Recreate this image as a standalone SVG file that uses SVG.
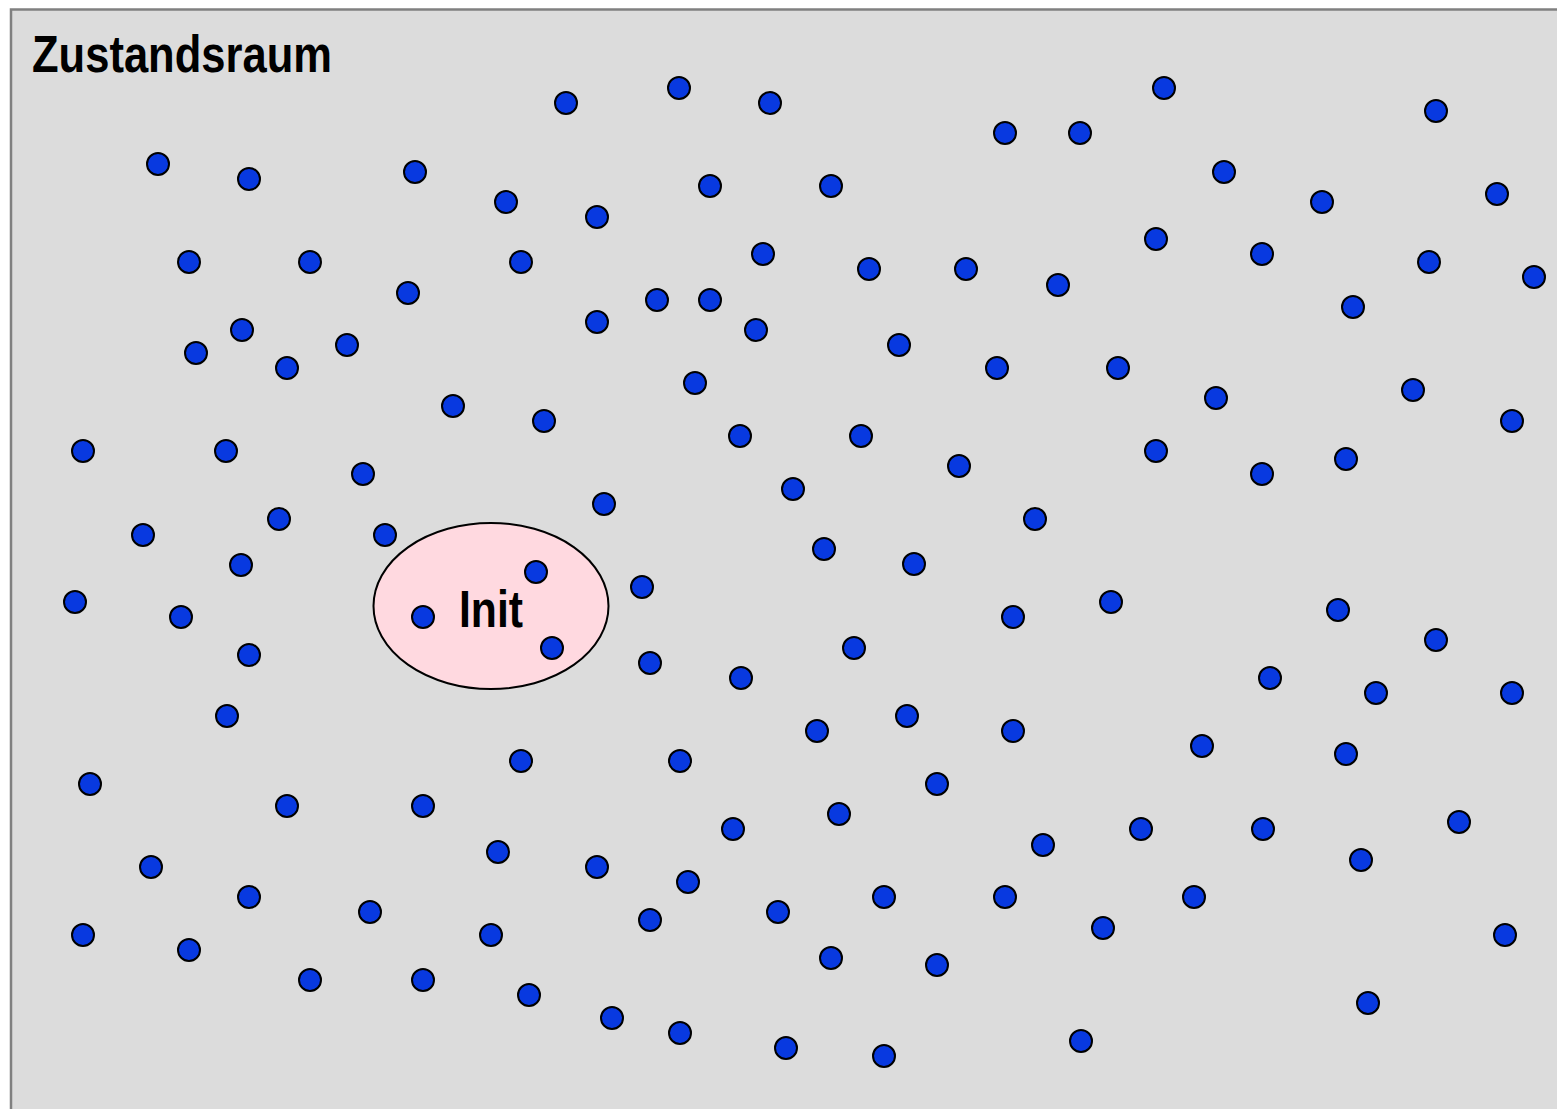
<svg xmlns="http://www.w3.org/2000/svg" width="1557" height="1109" viewBox="0 0 1557 1109">
<style>
.s{fill:#0839E0;stroke:#000;stroke-width:2}
.lbl{font-family:"Liberation Sans Narrow","Liberation Sans",Arial,sans-serif;font-weight:bold;fill:#000}
</style>
<rect x="0" y="0" width="1557" height="1109" fill="#ffffff"/>
<g id="zustandsraum">
<rect x="11" y="9.5" width="1560" height="1110" fill="#DCDCDC" stroke="#808080" stroke-width="2.5"/>
<text class="lbl" x="32" y="72" font-size="52" textLength="300" lengthAdjust="spacingAndGlyphs">Zustandsraum</text>
</g>
<g id="init">
<ellipse cx="491" cy="606" rx="117.5" ry="83" fill="#FFD9E0" stroke="#000" stroke-width="2"/>
<text class="lbl" x="491" y="627" font-size="52" text-anchor="middle" textLength="64" lengthAdjust="spacingAndGlyphs">Init</text>
</g>
<g id="zustaende">
<circle class="s" cx="566" cy="103" r="11"/>
<circle class="s" cx="679" cy="88" r="11"/>
<circle class="s" cx="770" cy="103" r="11"/>
<circle class="s" cx="1005" cy="133" r="11"/>
<circle class="s" cx="1080" cy="133" r="11"/>
<circle class="s" cx="1164" cy="88" r="11"/>
<circle class="s" cx="1436" cy="111" r="11"/>
<circle class="s" cx="158" cy="164" r="11"/>
<circle class="s" cx="249" cy="179" r="11"/>
<circle class="s" cx="415" cy="172" r="11"/>
<circle class="s" cx="506" cy="202" r="11"/>
<circle class="s" cx="597" cy="217" r="11"/>
<circle class="s" cx="710" cy="186" r="11"/>
<circle class="s" cx="831" cy="186" r="11"/>
<circle class="s" cx="1224" cy="172" r="11"/>
<circle class="s" cx="1322" cy="202" r="11"/>
<circle class="s" cx="1497" cy="194" r="11"/>
<circle class="s" cx="189" cy="262" r="11"/>
<circle class="s" cx="310" cy="262" r="11"/>
<circle class="s" cx="521" cy="262" r="11"/>
<circle class="s" cx="763" cy="254" r="11"/>
<circle class="s" cx="869" cy="269" r="11"/>
<circle class="s" cx="966" cy="269" r="11"/>
<circle class="s" cx="1058" cy="285" r="11"/>
<circle class="s" cx="1156" cy="239" r="11"/>
<circle class="s" cx="1262" cy="254" r="11"/>
<circle class="s" cx="1429" cy="262" r="11"/>
<circle class="s" cx="1534" cy="277" r="11"/>
<circle class="s" cx="408" cy="293" r="11"/>
<circle class="s" cx="657" cy="300" r="11"/>
<circle class="s" cx="710" cy="300" r="11"/>
<circle class="s" cx="597" cy="322" r="11"/>
<circle class="s" cx="756" cy="330" r="11"/>
<circle class="s" cx="1353" cy="307" r="11"/>
<circle class="s" cx="196" cy="353" r="11"/>
<circle class="s" cx="242" cy="330" r="11"/>
<circle class="s" cx="287" cy="368" r="11"/>
<circle class="s" cx="347" cy="345" r="11"/>
<circle class="s" cx="899" cy="345" r="11"/>
<circle class="s" cx="997" cy="368" r="11"/>
<circle class="s" cx="1118" cy="368" r="11"/>
<circle class="s" cx="695" cy="383" r="11"/>
<circle class="s" cx="453" cy="406" r="11"/>
<circle class="s" cx="544" cy="421" r="11"/>
<circle class="s" cx="1216" cy="398" r="11"/>
<circle class="s" cx="1413" cy="390" r="11"/>
<circle class="s" cx="1512" cy="421" r="11"/>
<circle class="s" cx="83" cy="451" r="11"/>
<circle class="s" cx="226" cy="451" r="11"/>
<circle class="s" cx="363" cy="474" r="11"/>
<circle class="s" cx="740" cy="436" r="11"/>
<circle class="s" cx="861" cy="436" r="11"/>
<circle class="s" cx="959" cy="466" r="11"/>
<circle class="s" cx="1156" cy="451" r="11"/>
<circle class="s" cx="1262" cy="474" r="11"/>
<circle class="s" cx="1346" cy="459" r="11"/>
<circle class="s" cx="143" cy="535" r="11"/>
<circle class="s" cx="279" cy="519" r="11"/>
<circle class="s" cx="385" cy="535" r="11"/>
<circle class="s" cx="604" cy="504" r="11"/>
<circle class="s" cx="793" cy="489" r="11"/>
<circle class="s" cx="1035" cy="519" r="11"/>
<circle class="s" cx="241" cy="565" r="11"/>
<circle class="s" cx="824" cy="549" r="11"/>
<circle class="s" cx="914" cy="564" r="11"/>
<circle class="s" cx="75" cy="602" r="11"/>
<circle class="s" cx="181" cy="617" r="11"/>
<circle class="s" cx="536" cy="572" r="11"/>
<circle class="s" cx="642" cy="587" r="11"/>
<circle class="s" cx="423" cy="617" r="11"/>
<circle class="s" cx="552" cy="648" r="11"/>
<circle class="s" cx="1013" cy="617" r="11"/>
<circle class="s" cx="1111" cy="602" r="11"/>
<circle class="s" cx="1338" cy="610" r="11"/>
<circle class="s" cx="1436" cy="640" r="11"/>
<circle class="s" cx="249" cy="655" r="11"/>
<circle class="s" cx="650" cy="663" r="11"/>
<circle class="s" cx="741" cy="678" r="11"/>
<circle class="s" cx="854" cy="648" r="11"/>
<circle class="s" cx="1270" cy="678" r="11"/>
<circle class="s" cx="1376" cy="693" r="11"/>
<circle class="s" cx="1512" cy="693" r="11"/>
<circle class="s" cx="227" cy="716" r="11"/>
<circle class="s" cx="817" cy="731" r="11"/>
<circle class="s" cx="907" cy="716" r="11"/>
<circle class="s" cx="1013" cy="731" r="11"/>
<circle class="s" cx="1202" cy="746" r="11"/>
<circle class="s" cx="1346" cy="754" r="11"/>
<circle class="s" cx="521" cy="761" r="11"/>
<circle class="s" cx="680" cy="761" r="11"/>
<circle class="s" cx="90" cy="784" r="11"/>
<circle class="s" cx="937" cy="784" r="11"/>
<circle class="s" cx="287" cy="806" r="11"/>
<circle class="s" cx="423" cy="806" r="11"/>
<circle class="s" cx="733" cy="829" r="11"/>
<circle class="s" cx="839" cy="814" r="11"/>
<circle class="s" cx="1043" cy="845" r="11"/>
<circle class="s" cx="1141" cy="829" r="11"/>
<circle class="s" cx="1263" cy="829" r="11"/>
<circle class="s" cx="1459" cy="822" r="11"/>
<circle class="s" cx="498" cy="852" r="11"/>
<circle class="s" cx="151" cy="867" r="11"/>
<circle class="s" cx="597" cy="867" r="11"/>
<circle class="s" cx="1361" cy="860" r="11"/>
<circle class="s" cx="249" cy="897" r="11"/>
<circle class="s" cx="688" cy="882" r="11"/>
<circle class="s" cx="884" cy="897" r="11"/>
<circle class="s" cx="1005" cy="897" r="11"/>
<circle class="s" cx="1194" cy="897" r="11"/>
<circle class="s" cx="83" cy="935" r="11"/>
<circle class="s" cx="189" cy="950" r="11"/>
<circle class="s" cx="370" cy="912" r="11"/>
<circle class="s" cx="491" cy="935" r="11"/>
<circle class="s" cx="650" cy="920" r="11"/>
<circle class="s" cx="778" cy="912" r="11"/>
<circle class="s" cx="1103" cy="928" r="11"/>
<circle class="s" cx="1505" cy="935" r="11"/>
<circle class="s" cx="831" cy="958" r="11"/>
<circle class="s" cx="937" cy="965" r="11"/>
<circle class="s" cx="310" cy="980" r="11"/>
<circle class="s" cx="423" cy="980" r="11"/>
<circle class="s" cx="529" cy="995" r="11"/>
<circle class="s" cx="1368" cy="1003" r="11"/>
<circle class="s" cx="612" cy="1018" r="11"/>
<circle class="s" cx="680" cy="1033" r="11"/>
<circle class="s" cx="786" cy="1048" r="11"/>
<circle class="s" cx="884" cy="1056" r="11"/>
<circle class="s" cx="1081" cy="1041" r="11"/>
</g>
</svg>
